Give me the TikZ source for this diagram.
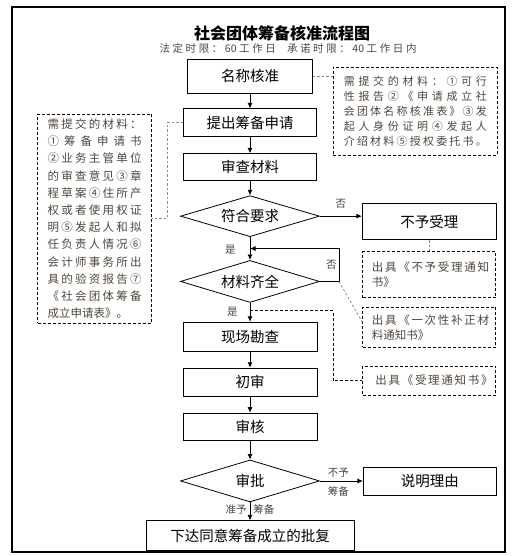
\documentclass[tikz,border=0pt]{standalone}
\usepackage{fontspec}
\newfontfamily\cjk{Noto Sans CJK SC}
\usetikzlibrary{positioning,arrows.meta,shapes.geometric}
\definecolor{notetext}{RGB}{80,70,60}
\definecolor{lblgray}{RGB}{70,70,70}
\definecolor{linkgray}{RGB}{140,140,140}
% one justified line of a note
\newcommand\jl[2]{\makebox[#1][s]{#2}}

\begin{document}
\begin{tikzpicture}[
  x=1pt, y=-1pt, >={Latex[length=5.5pt,width=5pt]},
  box/.style={rectangle, draw, line width=0.9pt, minimum width=134pt, minimum height=28pt,
              inner sep=0pt, font=\cjk\fontsize{14.5}{17}\selectfont},
  cond/.style={diamond, draw, line width=0.8pt, aspect=3.3, minimum width=139pt,
               minimum height=42pt, inner sep=0pt, font=\cjk\fontsize{14.5}{17}\selectfont},
  note/.style={rectangle, draw, line width=0.8pt, dash pattern=on 3pt off 2pt, align=left,
               inner sep=0pt, text=notetext, font=\cjk\fontsize{11.5}{15}\selectfont},
  lbl/.style={font=\cjk\fontsize{10.5}{12}\selectfont, text=lblgray, inner sep=1pt},
  flow/.style={->, line width=0.8pt},
  link/.style={draw=linkgray, line width=0.8pt, dash pattern=on 2.5pt off 2pt},
]
\useasboundingbox (0,0) rectangle (515,556);

% ---------- Frame and title ----------
\draw[line width=1.4pt] (12,7) rectangle (505,552);
\node[font=\cjk\bfseries\fontsize{16}{19}\selectfont] (title) at (282,33) {社会团体筹备核准流程图};
\node[font=\cjk\fontsize{10.5}{12}\selectfont, text=lblgray] (limit) at (288,48)
  {\jl{257pt}{法 定 时 限 ： 60 工 作 日 \hspace{6pt} 承 诺 时 限 ： 40 工 作 日 内}};

% ---------- Main column ----------
\node[box, minimum width=125pt, minimum height=34pt] (name) at (250,76) {名称核准};
\node[box, minimum width=133pt, below=15pt of name] (apply) {提出筹备申请};
\node[box, minimum width=133pt, minimum height=27pt, below=16pt of apply] (check) {审查材料};
\node[cond, minimum height=41pt, below=14pt of check] (meet) {符合要求};
\node[cond, below=23pt of meet] (full) {材料齐全};
\node[box, minimum height=29pt, below=19pt of full] (site) {现场勘查};
\node[box, below=16pt of site] (first) {初审};
\node[box, minimum height=27pt, below=16pt of first] (review) {审核};
\node[cond, below=19pt of review] (approve) {审批};
\node[box, minimum width=208pt, minimum height=30pt, below=18pt of approve] (reply) {下达同意筹备成立的批复};

% ---------- Right column ----------
\node[box, minimum height=36pt, right=42pt of meet, yshift=-5.5pt] (reject) {不予受理};
\node[note, minimum width=133pt, minimum height=46pt, below=11pt of reject] (rejnote)
  {\jl{115pt}{出 具 《 不 予 受 理 通 知}\\书》};
\node[note, minimum width=133pt, minimum height=40pt, below=9pt of rejnote] (supnote)
  {\jl{115pt}{出 具 《 一 次 性 补 正 材}\\料通知书》};
\node[note, minimum width=133pt, minimum height=29pt, below=18pt of supnote] (accnote)
  {\jl{108pt}{出 具 《 受 理 通 知 书 》}};
\node[box, minimum width=133pt, right=43pt of approve] (reason) {说明理由};

% ---------- Material lists ----------
\node[note, font=\cjk\fontsize{11}{15}\selectfont, minimum width=164pt, minimum height=88pt,
      right=20pt of name.north east, anchor=north west, yshift=-8pt] (namedoc)
  {\jl{143pt}{需 提 交 的 材 料 ： ① 可 行}\\
   \jl{143pt}{性 报 告 ② 《 申 请 成 立 社}\\
   \jl{143pt}{会 团 体 名 称 核 准 表 》 ③ 发}\\
   \jl{143pt}{起 人 身 份 证 明 ④ 发 起 人}\\
   \jl{143pt}{介 绍 材 料 ⑤ 授 权 委 托 书 。}};
\node[note, font=\cjk\fontsize{11.5}{17.2}\selectfont, minimum width=114pt, minimum height=209pt,
      left=31pt of apply.west, anchor=north east, yshift=9pt] (needs)
  {\jl{94pt}{需 提 交 的 材 料 ：}\\
   \jl{94pt}{① 筹 备 申 请 书}\\
   \jl{94pt}{② 业 务 主 管 单 位}\\
   \jl{94pt}{的 审 查 意 见 ③ 章}\\
   \jl{94pt}{程 草 案 ④ 住 所 产}\\
   \jl{94pt}{权 或 者 使 用 权 证}\\
   \jl{94pt}{明 ⑤ 发 起 人 和 拟}\\
   \jl{94pt}{任 负 责 人 情 况 ⑥}\\
   \jl{94pt}{会 计 师 事 务 所 出}\\
   \jl{94pt}{具 的 验 资 报 告 ⑦}\\
   \jl{94pt}{《 社 会 团 体 筹 备}\\
   成立申请表》。};

% ---------- Flow arrows ----------
\draw[flow] (name) -- (apply);
\draw[flow] (apply) -- (check);
\draw[flow] (check) -- (meet);
\draw[flow] (meet) -- node[lbl, left=13pt, pos=0.55] {是} (full);
\draw[flow] (meet.east) -- node[lbl, above=6pt] {否} (meet.east -| reject.west);
% back to the check when materials are missing
\path (meet.south) -- (full.north) coordinate[midway] (back);
\draw[flow] (full.east) -- ++(19,0) coordinate (turn) |- node[lbl, pos=0.25, left=1pt] {否} (back);
\draw[flow] (full) -- node[lbl, left=11pt, pos=0.47] {是} (site);
\path (full.south) -- (site.north) coordinate[pos=0.42] (pass);
\draw[flow] (site) -- (first);
\draw[flow] (first) -- (review);
\draw[flow] (review) -- (approve);
\draw[flow] (approve) -- node[lbl, left=2pt, pos=0.4] {准予} node[lbl, right=2pt, pos=0.4] {筹备} (reply);
\draw[flow] (approve) -- node[lbl, align=center, font=\cjk\fontsize{10.5}{19}\selectfont,
  midway, xshift=-3pt, yshift=-1.5pt] {不予\\筹备} (reason);

% ---------- Links to notes ----------
\draw[link] (name.east) -- (name.east -| namedoc.west);
\draw[link] (apply.west) -- ++(-16,0) |- (needs.east);
\draw[link] (reject) -- (rejnote);
\draw[link] (turn) -- ([yshift=5pt]supnote.west);
\draw[line width=0.8pt, dash pattern=on 3pt off 2pt] (pass) -- ++(83,0) |- (accnote.west);

\end{tikzpicture}
\end{document}
